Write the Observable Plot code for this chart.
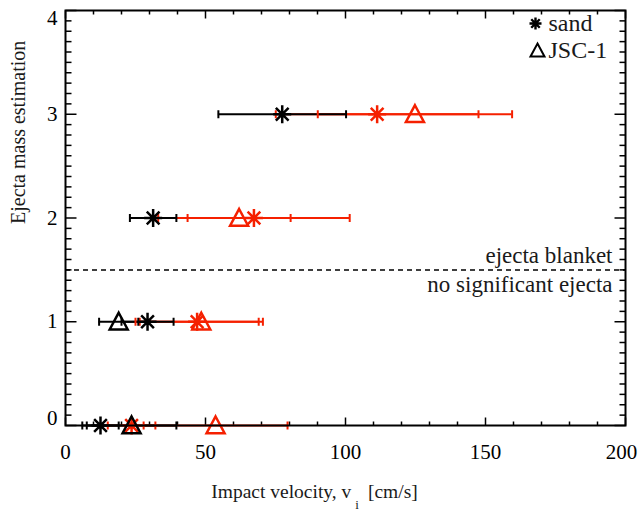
<!DOCTYPE html>
<html><head><meta charset="utf-8">
<script src="https://cdn.jsdelivr.net/npm/d3@7"></script>
<script src="https://cdn.jsdelivr.net/npm/@observablehq/plot@0.6"></script>
<style>body{margin:0;background:#fff} svg{display:block} svg text, svg tspan{font-family:'Liberation Serif',serif !important}</style>
</head><body><div id="chart"></div>
<script>
// ---- data ----
const ejectaLevel = [0, 1, 2, 3];
// black series
const sandBlackVelocity = [12.5, 29.3, 31.3, 77.4];
const sandBlackError    = [6.5, 9.3, 8.3, 22.8];
const jscBlackLevel     = [0, 1];
const jscBlackVelocity  = [23.6, 19.0];
const jscBlackError     = [16.0, 7.0];
// red series
const sandRedVelocity = [23.6, 47.0, 67.3, 111.3];
const sandRedError    = [8.5, 22.0, 34.2, 36.2];
const jscRedVelocity  = [53.6, 48.5, 62.0, 124.8];
const jscRedError     = [25.7, 22.0, 18.4, 34.7];
// axes / annotations
const xTicks = [0, 50, 100, 150, 200];
const yTicks = [0, 1, 2, 3, 4];
const xMinorStep = 10, yMinorStep = 0.1;
const threshold = 1.5;
const legendLabels = ["sand", "JSC-1"];
const xLabel = "Impact velocity, v";
const xLabelSub = "i";
const xLabelUnit = "[cm/s]";
const yLabel = "Ejecta mass estimation";
const aboveText = "ejecta blanket";
const belowText = "no significant ejecta";

const RED = "#f52000", BLACK = "#000", TEXT = "#1a1a1a";
const FONT = "Liberation Serif";

function series(material, color, levels, vel, err) {
  return levels.map((y, i) => ({material, color, y, v: vel[i], e: err[i]}));
}
const blackPts = [
  ...series("sand", BLACK, ejectaLevel, sandBlackVelocity, sandBlackError),
  ...series("JSC-1", BLACK, jscBlackLevel, jscBlackVelocity, jscBlackError)
];
const redPts = [
  ...series("sand", RED, ejectaLevel, sandRedVelocity, sandRedError),
  ...series("JSC-1", RED, ejectaLevel, jscRedVelocity, jscRedError)
];
const allPts = [...redPts, ...blackPts];
const caps = allPts.flatMap(d => [{...d, x: d.v - d.e}, {...d, x: d.v + d.e}]);

// ---- custom symbols ----
const rad = s => Math.sqrt(s / Math.PI);
const vline = {draw(c, s){const r = rad(s); c.moveTo(0, -r); c.lineTo(0, r);}};
const star8 = {draw(c, s){const r = rad(s);
  for (const a of [0, 45, 90, 135]) {const k = a*Math.PI/180, dx = Math.cos(k)*r, dy = Math.sin(k)*r;
    c.moveTo(-dx, -dy); c.lineTo(dx, dy);}}};
const tri = {draw(c, s){const r = rad(s); c.moveTo(0, -r); c.lineTo(r, r*0.85); c.lineTo(-r, r*0.85); c.closePath();}};
const dirSym = (ux, uy) => ({draw(c, s){const r = rad(s); c.moveTo(0, 0); c.lineTo(ux*r, uy*r);}});
const symOf = m => m === "sand" ? star8 : tri;

const xMinor = d3.range(0, 200 + 1e-9, xMinorStep).filter(v => !xTicks.includes(v));
const yMinor = d3.range(0, 4 + 1e-9, yMinorStep).map(v => +v.toFixed(1)).filter(v => !yTicks.includes(v));

const xTickMarks = (vals, len) => [
  Plot.dot(vals, {x: d => d, frameAnchor: "bottom", symbol: dirSym(0, -1), r: len, stroke: BLACK, strokeWidth: 1.5, fill: "none"}),
  Plot.dot(vals, {x: d => d, frameAnchor: "top", symbol: dirSym(0, 1), r: len, stroke: BLACK, strokeWidth: 1.5, fill: "none"})
];
const yTickMarks = (vals, len) => [
  Plot.dot(vals, {y: d => d, frameAnchor: "left", symbol: dirSym(1, 0), r: len, stroke: BLACK, strokeWidth: 1.5, fill: "none"}),
  Plot.dot(vals, {y: d => d, frameAnchor: "right", symbol: dirSym(-1, 0), r: len, stroke: BLACK, strokeWidth: 1.5, fill: "none"})
];
const T = {fontFamily: FONT, lineAnchor: "middle"};
const lastX = xTicks[xTicks.length - 1];

const plot = Plot.plot({
  width: 638, height: 511,
  marginLeft: 65, marginRight: 13, marginTop: 10, marginBottom: 86,
  x: {domain: [0, 200], axis: null},
  y: {domain: [0, 4], axis: null},
  style: {fontFamily: FONT, background: "#fff"},
  marks: [
    // ticks
    ...xTickMarks(xTicks, 8),
    ...xTickMarks(xMinor, 4),
    ...yTickMarks(yTicks, 11),
    ...yTickMarks(yMinor, 6),
    // tick labels
    Plot.text(xTicks.filter(d => d !== lastX), {...T, x: d => d, frameAnchor: "bottom", dy: 27, text: d => String(d), fontSize: 21, fill: BLACK}),
    Plot.text([lastX], {...T, x: d => d, frameAnchor: "bottom", dx: -4, dy: 27, text: d => String(d), fontSize: 21, fill: BLACK}),
    Plot.text(yTicks.filter(d => d > 0 && d < 4), {...T, y: d => d, frameAnchor: "left", dx: -8, textAnchor: "end", text: d => String(d), fontSize: 21, fill: BLACK}),
    Plot.text(yTicks.filter(d => d === 0), {...T, y: d => d, frameAnchor: "left", dx: -8, dy: -7, textAnchor: "end", text: d => String(d), fontSize: 21, fill: BLACK}),
    Plot.text(yTicks.filter(d => d === 4), {...T, y: d => d, frameAnchor: "left", dx: -8, dy: 8, textAnchor: "end", text: d => String(d), fontSize: 21, fill: BLACK}),
    // axis titles
    Plot.text([xLabel], {...T, frameAnchor: "bottom", dx: -31, dy: 66, text: d => d, fontSize: 19.5, fill: TEXT, className: "xlabel"}),
    Plot.text([yLabel], {...T, frameAnchor: "left", dx: -47, dy: 6, rotate: -90, text: d => d, fontSize: 20, fill: TEXT}),
    // threshold
    Plot.ruleY([threshold], {y: d => d, stroke: BLACK, strokeWidth: 1.5, strokeDasharray: "5,4"}),
    Plot.text([aboveText], {...T, x: () => 200, y: () => threshold, dx: -13, dy: -14, textAnchor: "end", text: d => d, fontSize: 23, fill: TEXT}),
    Plot.text([belowText], {...T, x: () => 200, y: () => threshold, dx: -13, dy: 15, textAnchor: "end", text: d => d, fontSize: 23, fill: TEXT}),
    // error bars
    Plot.ruleY(redPts, {y: "y", x1: d => d.v - d.e, x2: d => d.v + d.e, stroke: RED, strokeWidth: 2}),
    Plot.ruleY(blackPts, {y: "y", x1: d => d.v - d.e, x2: d => d.v + d.e, stroke: BLACK, strokeWidth: 2}),
    Plot.dot(caps, {x: "x", y: "y", symbol: vline, r: 4, stroke: d => d.color, strokeWidth: 2, fill: "none"}),
    // markers
    Plot.dot(allPts, {x: "v", y: "y", symbol: d => symOf(d.material), r: 9, stroke: d => d.color, strokeWidth: 2.5, fill: "none"}),
    // legend
    Plot.dot([legendLabels[0]], {frameAnchor: "top-right", dx: -90, dy: 13, symbol: star8, r: 6, stroke: BLACK, strokeWidth: 2.4, fill: "none"}),
    Plot.dot([legendLabels[1]], {frameAnchor: "top-right", dx: -88, dy: 40, symbol: tri, r: 7, stroke: BLACK, strokeWidth: 2, fill: "none"}),
    Plot.text([legendLabels[0]], {...T, frameAnchor: "top-right", dx: -77, dy: 13, textAnchor: "start", text: d => d, fontSize: 24, fill: TEXT}),
    Plot.text([legendLabels[1]], {...T, frameAnchor: "top-right", dx: -77, dy: 40, textAnchor: "start", text: d => d, fontSize: 24, fill: TEXT}),
    // frame
    Plot.frame({stroke: BLACK, strokeWidth: 2})
  ]
});
// attach subscript to x label
const t = plot.querySelector(".xlabel text");
if (t) {
  t.textContent = "";
  const ns = "http://www.w3.org/2000/svg";
  const a = document.createElementNS(ns, "tspan"); a.textContent = xLabel; t.appendChild(a);
  const b = document.createElementNS(ns, "tspan"); b.textContent = xLabelSub; b.setAttribute("dx", "4"); b.setAttribute("dy", "11"); b.setAttribute("font-size", "13"); t.appendChild(b);
  const c = document.createElementNS(ns, "tspan"); c.textContent = xLabelUnit; c.setAttribute("dx", "9"); c.setAttribute("dy", "-11"); t.appendChild(c);
}
plot.querySelectorAll("text, tspan").forEach(n => n.style.setProperty("font-family", "'Liberation Serif', serif", "important"));
document.getElementById("chart").appendChild(plot);
</script>
</body></html>
